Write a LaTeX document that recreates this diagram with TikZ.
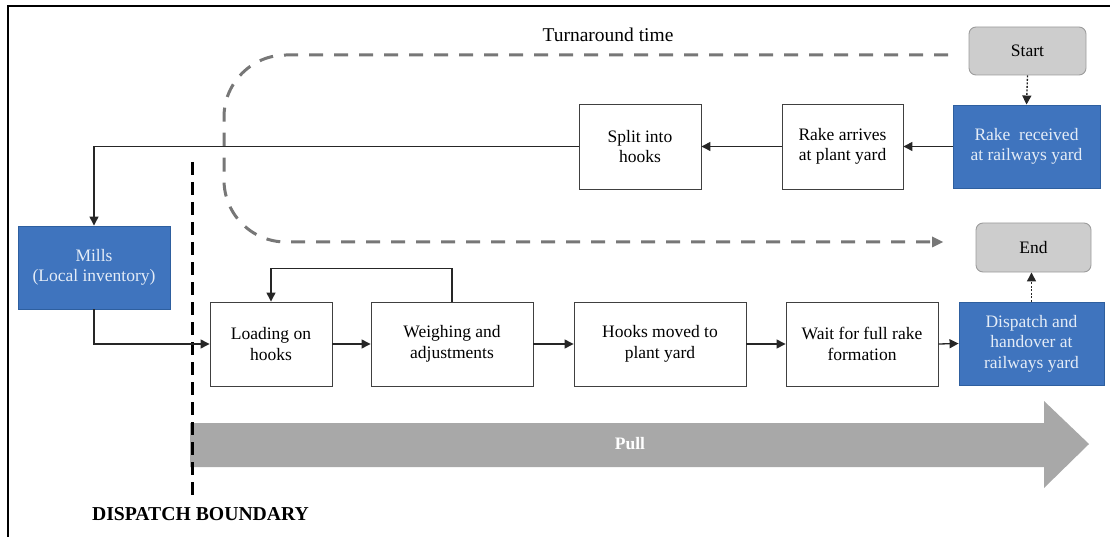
\documentclass[tikz,border=0pt]{standalone}
\usepackage{fontspec}
\setmainfont{Liberation Serif}
\usetikzlibrary{arrows.meta}
\definecolor{blueF}{HTML}{3F74BE}
\definecolor{blueD}{HTML}{2E5F9F}
\definecolor{blueT}{HTML}{E4ECF7}
\definecolor{greyF}{HTML}{CDCDCD}
\definecolor{greyD}{HTML}{9C9C9C}
\definecolor{loopC}{HTML}{777777}
\definecolor{pullC}{HTML}{A8A8A8}
\begin{document}
\begin{tikzpicture}[x=1pt,y=-1pt,
  font=\fontsize{17.5}{20.5}\selectfont,
  box/.style={draw=black!75, line width=0.9pt, fill=white, align=center, inner sep=0pt},
  bluebox/.style={draw=blueD, line width=0.9pt, fill=blueF, text=blueT, align=center, inner sep=0pt},
  greybox/.style={draw=greyD, line width=0.9pt, fill=greyF, rounded corners=7pt, align=center, inner sep=0pt},
  flow/.style={line width=1.3pt, draw=black!85, -{Triangle[length=9pt,width=9pt]}},
  dotflow/.style={line width=1.3pt, draw=black!85, dash pattern=on 2pt off 1.5pt, -{Triangle[length=9pt,width=9pt]}},
  loopline/.style={line width=3pt, draw=loopC, dash pattern=on 14pt off 11pt, rounded corners=62pt},
  boundary/.style={line width=3pt, draw=black, dash pattern=on 13pt off 7pt}]
\useasboundingbox (0,0) rectangle (1110,537);
% frame
\draw[line width=1.5pt] (8,537) -- (8,6) -- (1110,6);

% pull arrow
\fill[pullC] (190,423) -- (1044,423) -- (1044,401) -- (1089,444) -- (1044,488) -- (1044,467) -- (190,467) -- cycle;
\node[text=white, font=\fontsize{17.5}{20}\selectfont\bfseries] (pull) at (630,444) {Pull};

% dispatch boundary
\coordinate (bTop) at (192,162);
\coordinate (bBot) at (192,500);
\draw[boundary] (bTop) -- (bBot);
\node[font=\fontsize{19.7}{22}\selectfont\bfseries] (blabel) at (200.5,514) {DISPATCH BOUNDARY};

% turnaround loop
\node[font=\fontsize{19.5}{22}\selectfont] (turn) at (608,35) {Turnaround time};
\coordinate (loopA) at (948,55);
\coordinate (loopB) at (224,55);
\coordinate (loopC) at (224,242);
\coordinate (loopD) at (934,242);
\draw[loopline] (loopA) -- (loopB) -- (loopC) -- (loopD);
\fill[loopC] (943,242) -- ++(-11,-5.5) -- ++(0,11) -- cycle;

% top row
\node[greybox, minimum width=117pt, minimum height=48pt] (start) at (1027.5,51) {Start};
\node[bluebox, minimum width=147pt, minimum height=83pt] (recv) at (1026.5,146.5) {Rake\ \ received\\at railways yard};
\node[box, minimum width=121pt, minimum height=85pt] (arrive) at (842.5,146.5) {Rake arrives\\at plant yard};
\node[box, minimum width=122pt, minimum height=85pt] (split) at (640,146.5) {Split into\\hooks};
\node[bluebox, minimum width=152pt, minimum height=83pt] (mills) at (94,267.5) {Mills\\(Local inventory)};

% bottom row
\node[box, minimum width=122pt, minimum height=84pt] (load) at (271,344) {Loading on\\hooks};
\node[box, minimum width=162pt, minimum height=84pt] (weigh) at (452,344) {Weighing and\\adjustments};
\node[box, minimum width=172pt, minimum height=84pt] (moved) at (660,344) {Hooks moved to\\plant yard};
\node[box, minimum width=152pt, minimum height=84pt] (wait) at (862,344) {Wait for full rake\\formation};
\node[bluebox, minimum width=145pt, minimum height=83pt] (disp) at (1031.5,343.5) {Dispatch and\\handover at\\railways yard};
\node[greybox, minimum width=115pt, minimum height=49pt] (end) at (1033.5,247.5) {End};

% connectors
\draw[dotflow] (start.south) -- (recv.north);
\draw[flow] (recv.west) -- (arrive.east);
\draw[flow] (arrive.west) -- (split.east);
\draw[flow] (split.west) -| (mills.north);
\draw[flow] (mills.south) |- (load.west);
\draw[flow] (load.east) -- (weigh.west);
\draw[flow] (weigh.north) -- ++(0,-33) -| (load.north);
\draw[flow] (weigh.east) -- (moved.west);
\draw[flow] (moved.east) -- (wait.west);
\draw[flow] (wait.east) -- (disp.west);
\draw[dotflow] (disp.north) -- (disp.north |- end.south);
\end{tikzpicture}
\end{document}
